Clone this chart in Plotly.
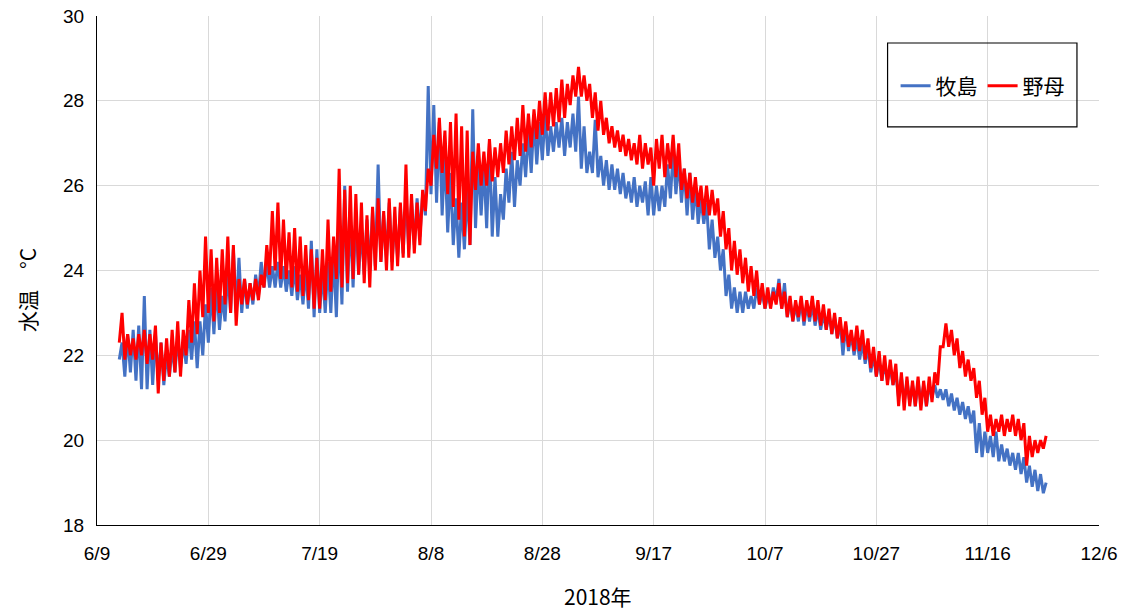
import pandas as pd
import plotly.graph_objects as go

# Daily water-temperature envelope (°C), one value per day from 2018-06-13
start_date = "2018-06-13"

makishima_hi = [
    22.3, 22.5, 22.6, 22.7, 23.4, 22.6, 22.5,
    22.3, 22.0, 22.2, 22.4, 22.3, 22.6, 22.8,
    22.8, 23.2, 23.6, 23.7, 23.4, 24.0, 24.5,
    24.3, 23.8, 23.7, 23.9, 24.2, 24.2, 24.1,
    24.2, 24.1, 24.0, 24.1, 23.9, 24.0, 24.7,
    24.5, 24.0, 24.2, 24.4, 25.0, 26.0, 25.3,
    25.3, 25.0, 25.2, 25.4, 26.5, 25.3, 25.6,
    25.2, 25.5, 25.8, 25.6, 25.7, 25.8, 28.35,
    27.9, 27.5, 26.8, 26.3, 25.7, 25.6, 25.9,
    27.8, 26.6, 26.5, 27.0, 26.2, 25.8, 26.4,
    26.8, 26.6, 27.0, 27.3, 27.6, 27.5, 27.7,
    27.4, 27.5, 27.6, 27.5, 27.7, 28.1, 27.4,
    26.8, 27.55, 26.7, 26.6, 26.5, 26.4, 26.3,
    26.1, 26.2, 26.0, 26.1, 26.2, 26.0, 26.0,
    26.5, 26.8, 26.6, 26.4, 26.3, 26.0, 25.7,
    25.6, 25.2, 24.8, 24.5, 23.9, 23.6, 23.5,
    23.5, 23.4, 23.6, 23.5, 23.4, 23.6, 23.8,
    23.7, 23.3, 23.2, 23.3, 23.2, 23.2, 23.1,
    23.0, 23.0, 22.9, 22.8, 22.7, 22.5, 22.4,
    22.3, 22.2, 22.0, 21.9, 21.8, 21.7, 21.6,
    21.5, 21.4, 21.3, 21.4, 21.3, 21.3, 21.3,
    21.2, 21.2, 21.1, 21.0, 20.9, 20.8, 20.7,
    20.4, 20.2, 20.1, 20.2, 19.9, 19.8, 19.7,
    19.7, 19.6, 19.4, 19.3, 19.2, 19.0,
]
makishima_lo = [
    21.9, 21.5, 21.6, 21.4, 21.2, 21.2, 21.3,
    21.4, 21.3, 21.5, 21.6, 21.7, 21.8, 21.9,
    21.7, 22.0, 22.3, 22.5, 22.6, 22.8, 23.0,
    23.0, 23.0, 23.1, 23.2, 23.4, 23.6, 23.6,
    23.6, 23.6, 23.5, 23.4, 23.3, 23.2, 23.1,
    22.9, 23.0, 23.0, 23.0, 22.9, 23.2, 23.5,
    23.6, 23.9, 23.9, 24.0, 24.1, 24.2, 24.3,
    24.2, 24.3, 24.4, 24.5, 24.6, 24.8, 25.3,
    25.8, 25.6, 25.3, 24.9, 24.6, 24.3, 24.5,
    24.6, 25.0, 25.3, 25.0, 24.8, 24.8, 25.2,
    25.6, 25.5, 26.0, 26.2, 26.3, 26.5, 26.6,
    26.7, 26.8, 26.9, 26.7, 26.9, 26.8, 26.4,
    26.3, 26.3, 26.2, 26.0, 25.9, 25.9, 25.8,
    25.7, 25.6, 25.5, 25.6, 25.3, 25.3, 25.4,
    25.5, 25.7, 25.8, 25.6, 25.3, 25.2, 25.1,
    25.1, 24.5, 24.3, 24.0, 23.4, 23.1, 23.0,
    23.0, 23.1, 23.1, 23.2, 23.1, 23.2, 23.3,
    23.1, 22.9, 22.8, 22.8, 22.7, 22.8, 22.7,
    22.6, 22.6, 22.5, 22.4, 22.0, 22.1, 22.0,
    21.9, 21.8, 21.6, 21.5, 21.4, 21.4, 21.3,
    21.0, 20.9, 20.9, 20.8, 20.9, 20.8, 21.0,
    21.0, 20.95, 20.8, 20.7, 20.6, 20.5, 20.4,
    19.7, 19.6, 19.7, 19.6, 19.5, 19.5, 19.4,
    19.3, 19.2, 19.0, 18.9, 18.8, 18.75,
]
nomo_hi = [
    23.0, 22.5, 22.4, 22.5, 22.6, 22.5, 22.7,
    22.3, 22.4, 22.6, 22.8, 22.6, 23.3, 23.7,
    24.0, 24.8, 24.5, 24.3, 24.5, 24.8, 24.6,
    23.8, 23.8, 23.7, 23.8, 23.9, 24.6, 25.4,
    25.6, 25.2, 24.9, 25.0, 24.8, 24.6, 24.5,
    24.3, 24.5, 25.2, 24.8, 26.4, 25.9, 26.0,
    25.8, 25.6, 25.3, 25.5, 25.7, 25.4, 25.7,
    25.5, 25.6, 26.5, 25.8, 25.6, 25.9, 26.4,
    27.2, 27.6, 27.3, 27.5, 27.7, 27.4, 27.3,
    26.8, 27.0, 26.8, 27.1, 26.9, 27.0, 27.3,
    27.4, 27.6, 27.9, 27.7, 27.8, 28.0, 28.2,
    28.2, 28.3, 28.5, 28.4, 28.6, 28.8, 28.6,
    28.4, 28.2, 28.0, 27.6, 27.4, 27.3, 27.2,
    27.1, 27.0, 27.2, 27.0, 26.9, 27.1, 27.2,
    27.0, 27.2, 27.0, 26.4, 26.3, 26.2, 26.0,
    26.0, 25.9, 25.7, 25.4, 25.0, 24.7, 24.5,
    24.3, 24.1, 24.0, 23.7, 23.6, 23.5, 23.7,
    23.5, 23.4, 23.3, 23.4, 23.3, 23.4, 23.3,
    23.2, 23.1, 23.0, 22.9, 22.8, 22.6, 22.7,
    22.6, 22.4, 22.2, 22.1, 22.0, 21.9, 21.8,
    21.6, 21.5, 21.4, 21.5, 21.4, 21.5, 21.6,
    22.2, 22.75, 22.6, 22.4, 22.1, 21.9, 21.7,
    21.4, 21.0, 20.6, 20.5, 20.6, 20.5, 20.6,
    20.5, 20.4, 20.1, 20.0, 20.0, 20.1,
]
nomo_lo = [
    22.3, 21.9, 22.0, 21.9, 22.0, 21.8, 21.9,
    21.1, 21.4, 21.5, 21.6, 21.5, 22.0, 22.3,
    22.5, 22.9, 23.0, 22.8, 23.0, 23.2, 23.0,
    22.7, 23.2, 23.2, 23.3, 23.3, 23.6, 23.9,
    24.0, 23.8, 23.8, 23.6, 23.5, 23.4, 23.3,
    23.1, 23.1, 23.3, 23.5, 23.8, 23.6, 23.7,
    23.8, 23.9, 23.7, 23.6, 24.0, 24.2, 24.0,
    24.0, 24.1, 24.3, 24.3, 24.4, 24.6, 25.4,
    26.0, 26.4, 26.3, 25.8, 25.5, 25.2, 24.8,
    24.6, 25.9, 26.0, 26.0, 26.1, 26.2, 26.3,
    26.5, 26.6, 26.7, 26.8, 26.9, 27.1, 27.2,
    27.3, 27.4, 27.5, 27.6, 27.9, 28.1, 28.1,
    28.0, 27.6, 27.3, 27.2, 27.0, 26.9, 26.8,
    26.7, 26.6, 26.5, 26.4, 26.5, 26.0, 26.4,
    26.2, 26.4, 26.2, 25.9, 25.7, 25.6, 25.5,
    25.3, 25.3, 25.3, 24.8, 24.5, 24.0, 23.9,
    23.7, 23.5, 23.4, 23.2, 23.1, 23.1, 23.2,
    23.1, 22.9, 22.8, 22.9, 22.8, 22.9, 22.8,
    22.7, 22.6, 22.5, 22.4, 22.3, 22.2, 22.1,
    22.1, 21.9, 21.7, 21.5, 21.4, 21.3, 21.3,
    20.8, 20.7, 20.8, 20.8, 20.7, 20.8, 20.9,
    21.3, 22.2, 22.2, 22.0, 21.7, 21.5, 21.4,
    21.0, 20.6, 20.2, 20.1, 20.2, 20.1, 20.2,
    20.1, 20.0, 19.4, 19.6, 19.7, 19.8,
]

tick_dates = ["2018-06-09", "2018-06-29", "2018-07-19", "2018-08-08", "2018-08-28",
              "2018-09-17", "2018-10-07", "2018-10-27", "2018-11-16", "2018-12-06"]
tick_labels = ["6/9", "6/29", "7/19", "8/8", "8/28", "9/17", "10/7", "10/27", "11/16", "12/6"]


def twice_daily(lo, hi):
    """Lay the daily low/high readings out as a 12-hourly series."""
    out = []
    for a, b in zip(lo, hi):
        out.extend([a, b])
    return out


times = pd.date_range(start_date, periods=2 * len(makishima_hi), freq="12h")

fig = go.Figure()
fig.add_trace(go.Scatter(x=times, y=twice_daily(makishima_lo, makishima_hi), name="牧島",
                         mode="lines", line=dict(color="#4472C4", width=3)))
fig.add_trace(go.Scatter(x=times, y=twice_daily(nomo_lo, nomo_hi), name="野母",
                         mode="lines", line=dict(color="#FF0000", width=3)))

num_font = dict(family="Liberation Sans, Arial, sans-serif", size=19, color="#000000")
legend_font = dict(family="Noto Sans CJK JP, sans-serif", size=21, color="#000000")
title_font = dict(family="Noto Sans CJK JP, sans-serif", size=21, color="#000000")

fig.update_layout(
    width=1130, height=611,
    margin=dict(l=97, r=31, t=16, b=86),
    paper_bgcolor="white", plot_bgcolor="white",
    showlegend=True,
    legend=dict(orientation="h", x=0.797, y=0.8625, xanchor="left", yanchor="middle",
                font=legend_font, bgcolor="rgba(0,0,0,0)"),
    xaxis=dict(type="date", range=["2018-06-09", "2018-12-06"], automargin=False,
               tickmode="array", tickvals=tick_dates, ticktext=tick_labels,
               tickfont=num_font, ticklabelstandoff=11,
               showgrid=True, gridcolor="#D9D9D9", gridwidth=1,
               showline=True, linecolor="#000000", linewidth=1, zeroline=False, ticks=""),
    yaxis=dict(range=[18, 30], dtick=2, tick0=18, tickfont=num_font, ticklabelstandoff=8,
               automargin=False,
               showgrid=True, gridcolor="#D9D9D9", gridwidth=1,
               showline=True, linecolor="#000000", linewidth=1, zeroline=False, ticks=""),
    shapes=[dict(type="rect", xref="paper", yref="paper", x0=0.789, x1=0.978, y0=0.782, y1=0.947,
                 line=dict(color="#000000", width=1.2), fillcolor="rgba(0,0,0,0)", layer="above")],
    annotations=[
        dict(text="水温　°C", xref="paper", yref="paper", x=-0.0699, y=0.4617,
             textangle=-90, showarrow=False, xanchor="center", yanchor="middle", font=title_font),
        dict(text="2018年", xref="paper", yref="paper", x=0.5, y=-0.1395,
             showarrow=False, xanchor="center", yanchor="middle", font=title_font),
    ],
)

fig.write_html("out.html")
